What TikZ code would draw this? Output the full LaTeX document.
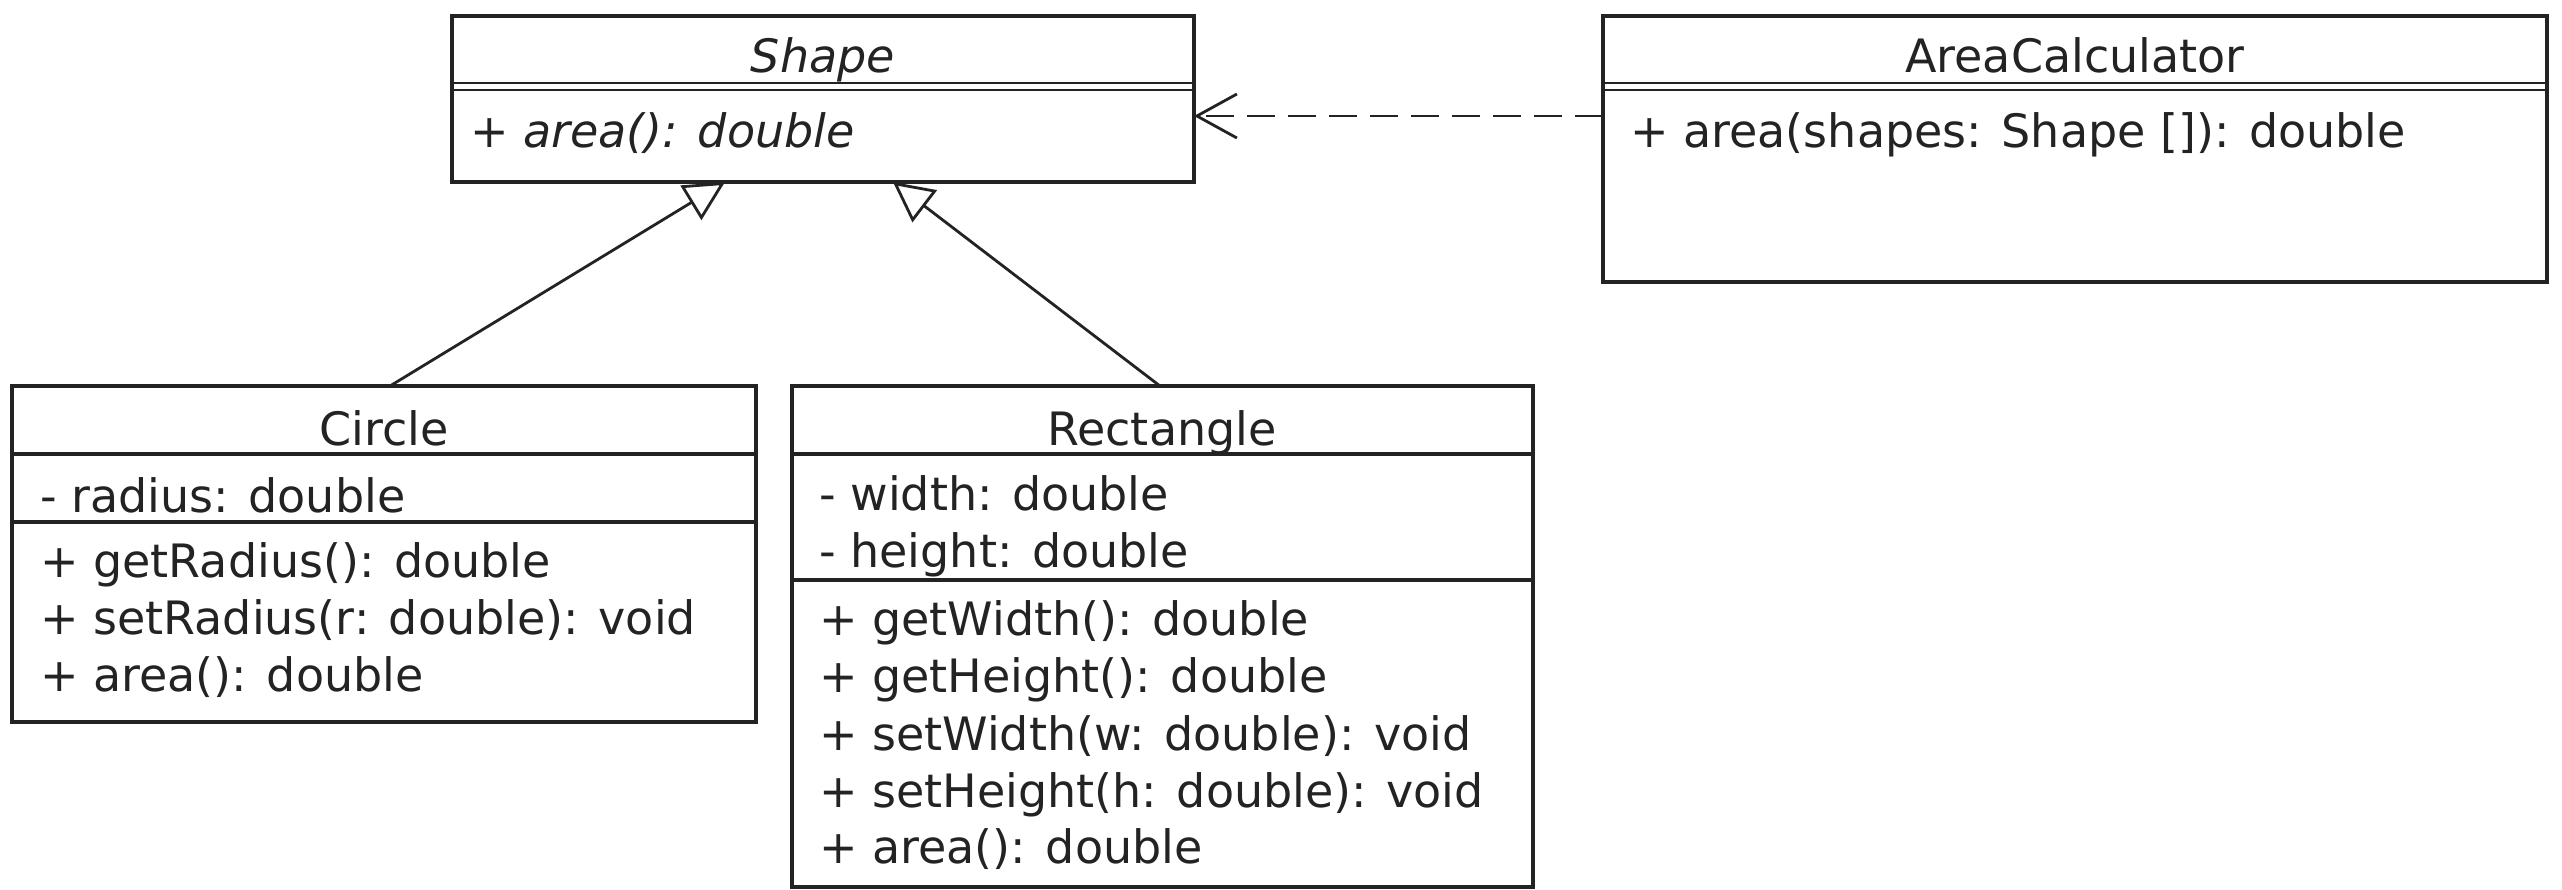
\documentclass[tikz,border=0pt]{standalone}
\usepackage{fontspec}
\setmainfont{DejaVu Sans}
\usetikzlibrary{arrows.meta}
\definecolor{ink}{RGB}{35,35,35}
\begin{document}
\begin{tikzpicture}[x=1pt,y=-1pt,
  box/.style={draw=ink, line width=3.5pt, inner sep=0pt, outer sep=0pt, anchor=north west},
  txt/.style={anchor=base west, inner sep=0pt, text=ink, font=\fontsize{46pt}{57pt}\selectfont},
  ctxt/.style={anchor=base, inner sep=0pt, text=ink, font=\fontsize{46pt}{57pt}\selectfont},
  itxt/.style={txt, font=\fontsize{46pt}{57pt}\selectfont\itshape},
  ictxt/.style={ctxt, font=\fontsize{46pt}{57pt}\selectfont\itshape},
  sepline/.style={draw=ink, line width=3.5pt},
  dblline/.style={draw=ink, line width=2.8pt},
  gen/.style={draw=ink, line width=2.8pt, -{Triangle[open, length=40pt, width=40pt, line width=2.8pt]}},
  dep/.style={draw=ink, line width=2.8pt, dash pattern=on 28pt off 13pt, -{Straight Barb[length=40pt, width=44pt, line width=2.8pt]}}]
\useasboundingbox (0,0) rectangle (2562,889);
\fill[white] (0,0) rectangle (2562,889);

% Shape
\node[box, minimum width=742pt, minimum height=166pt] (shape) at (452,16) {};
\draw[dblline] (shape.west |- 0,83) -- (shape.east |- 0,83);
\draw[dblline] (shape.west |- 0,90) -- (shape.east |- 0,90);
\node[ictxt] (shapename) at (823,72) {Shape};
\node[itxt] (shapeop) at (470,147) {+ area(): double};

% AreaCalculator
\node[box, minimum width=944pt, minimum height=266pt] (area) at (1603,16) {};
\draw[dblline] (area.west |- 0,83) -- (area.east |- 0,83);
\draw[dblline] (area.west |- 0,90) -- (area.east |- 0,90);
\node[ctxt] (areaname) at (2075,72) {AreaCalculator};
\node[txt] (areaop) at (1630,147) {+ area(shapes: Shape []): double};

% Circle
\node[box, minimum width=744pt, minimum height=336pt] (circle) at (12,386) {};
\draw[sepline] (circle.west |- 0,454) -- (circle.east |- 0,454);
\draw[sepline] (circle.west |- 0,522) -- (circle.east |- 0,522);
\node[ctxt] (circlename) at (384,445) {Circle};
\node[txt] (ca1) at (40,512) {- radius: double};
\node[txt] (co1) at (40,577) {+ getRadius(): double};
\node[txt] (co2) at (40,634) {+ setRadius(r: double): void};
\node[txt] (co3) at (40,691) {+ area(): double};

% Rectangle
\node[box, minimum width=741pt, minimum height=501pt] (rect) at (792,386) {};
\draw[sepline] (rect.west |- 0,454) -- (rect.east |- 0,454);
\draw[sepline] (rect.west |- 0,580) -- (rect.east |- 0,580);
\node[ctxt] (rectname) at (1162,445) {Rectangle};
\node[txt] (ra1) at (819,510) {- width: double};
\node[txt] (ra2) at (819,567) {- height: double};
\node[txt] (ro1) at (819,635) {+ getWidth(): double};
\node[txt] (ro2) at (819,692) {+ getHeight(): double};
\node[txt] (ro3) at (819,750) {+ setWidth(w: double): void};
\node[txt] (ro4) at (819,807) {+ setHeight(h: double): void};
\node[txt] (ro5) at (819,863) {+ area(): double};

% Connectors
\draw[gen] ([xshift=378pt]circle.north west) -- ([xshift=273pt]shape.south west);
\draw[gen] ([xshift=368pt]rect.north west) -- ([xshift=441pt]shape.south west);
\draw[dep] ([yshift=-100pt]area.north west) -- ([yshift=-100pt]shape.north east);
\end{tikzpicture}
\end{document}
